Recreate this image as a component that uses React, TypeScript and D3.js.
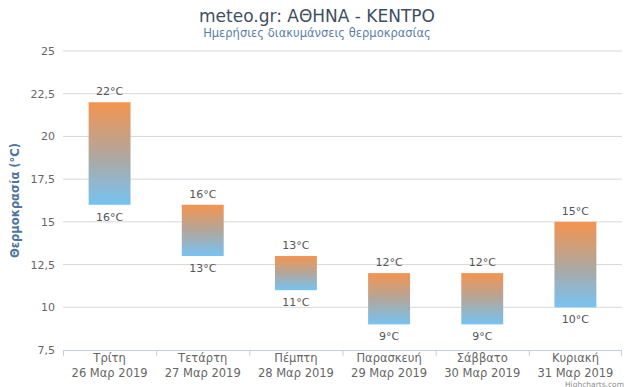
import React from "react";
import * as d3 from "d3";

const days = ["Τρίτη", "Τετάρτη", "Πέμπτη", "Παρασκευή", "Σάββατο", "Κυριακή"];
const dates = ["26 Μαρ 2019", "27 Μαρ 2019", "28 Μαρ 2019", "29 Μαρ 2019", "30 Μαρ 2019", "31 Μαρ 2019"];
const lows = [16, 13, 11, 9, 9, 10];
const highs = [22, 16, 13, 12, 12, 15];
const yTicks = [7.5, 10, 12.5, 15, 17.5, 20, 22.5, 25];

const width = 632;
const height = 387;
const margin = { top: 51, right: 10, bottom: 37, left: 63 };
const font = "'DejaVu Sans', Verdana, sans-serif";

const App: React.FC = () => {
  const innerWidth = width - margin.left - margin.right;
  const innerHeight = height - margin.top - margin.bottom;

  const x = d3
    .scaleBand()
    .domain(days)
    .range([margin.left, margin.left + innerWidth])
    .paddingInner(0)
    .paddingOuter(0);

  const y = d3
    .scaleLinear()
    .domain([7.5, 25])
    .range([margin.top + innerHeight, margin.top]);

  const barWidth = x.bandwidth() * 0.45;
  const fmt = (v: number) => String(v).replace(".", ",");

  return (
    <svg
      width={width}
      height={height}
      style={{ position: "absolute", left: 0, top: 0, background: "#fff" }}
      fontFamily={font}
    >
      <defs>
        <linearGradient id="tempGrad" x1="0" y1="0" x2="0" y2="1">
          <stop offset="0%" stopColor="#f4944f" />
          <stop offset="50%" stopColor="#b3a69b" />
          <stop offset="100%" stopColor="#76c3f2" />
        </linearGradient>
      </defs>

      <text x={317} y={22} textAnchor="middle" fontSize={17} fill="#3e4f60">
        meteo.gr: ΑΘΗΝΑ - ΚΕΝΤΡΟ
      </text>
      <text x={317} y={37} textAnchor="middle" fontSize={11.5} fill="#5b7fa6">
        Ημερήσιες διακυμάνσεις θερμοκρασίας
      </text>

      {/* grid + y labels */}
      {yTicks.map((t) => (
        <g key={t}>
          {t !== 7.5 && (
            <line
              x1={margin.left}
              x2={margin.left + innerWidth}
              y1={y(t)}
              y2={y(t)}
              stroke="#d8d8d8"
            />
          )}
          <text
            x={55}
            y={y(t) + 4}
            textAnchor="end"
            fontSize={11}
            fill="#666"
          >
            {fmt(t)}
          </text>
        </g>
      ))}

      <text
        transform={`translate(19,${margin.top + innerHeight / 2}) rotate(-90)`}
        textAnchor="middle"
        fontSize={11.5}
        fontWeight="bold"
        fill="#4d759e"
      >
        Θερμοκρασία (°C)
      </text>

      {/* x axis */}
      <line
        x1={margin.left}
        x2={margin.left + innerWidth}
        y1={y(7.5) + 0.5}
        y2={y(7.5) + 0.5}
        stroke="#c0d0e0"
      />
      {days.map((d, i) => (
        <line
          key={"tk" + i}
          x1={(x(d) ?? 0) + 0.5}
          x2={(x(d) ?? 0) + 0.5}
          y1={y(7.5)}
          y2={y(7.5) + 6}
          stroke="#c0d0e0"
        />
      ))}
      <line
        x1={margin.left + innerWidth - 0.5}
        x2={margin.left + innerWidth - 0.5}
        y1={y(7.5)}
        y2={y(7.5) + 6}
        stroke="#c0d0e0"
      />
      {days.map((d, i) => {
        const cx = (x(d) ?? 0) + x.bandwidth() / 2;
        return (
          <text key={"xl" + i} textAnchor="middle" fontSize={11.5} fill="#666">
            <tspan x={cx} y={362}>
              {d}
            </tspan>
            <tspan x={cx} y={377}>
              {dates[i]}
            </tspan>
          </text>
        );
      })}

      {/* bars */}
      {days.map((d, i) => {
        const cx = (x(d) ?? 0) + x.bandwidth() / 2;
        return (
          <g key={"b" + i}>
            <rect
              x={cx - barWidth / 2}
              y={y(highs[i])}
              width={barWidth}
              height={y(lows[i]) - y(highs[i])}
              fill="url(#tempGrad)"
            />
            <text
              x={cx}
              y={y(highs[i]) - 7}
              textAnchor="middle"
              fontSize={11}
              fill="#555"
            >
              {highs[i]}°C
            </text>
            <text
              x={cx}
              y={y(lows[i]) + 16}
              textAnchor="middle"
              fontSize={11}
              fill="#555"
            >
              {lows[i]}°C
            </text>
          </g>
        );
      })}

      <text x={624} y={386.5} textAnchor="end" fontSize={7.5} fill="#909090">
        Highcharts.com
      </text>
    </svg>
  );
};

export default App;
